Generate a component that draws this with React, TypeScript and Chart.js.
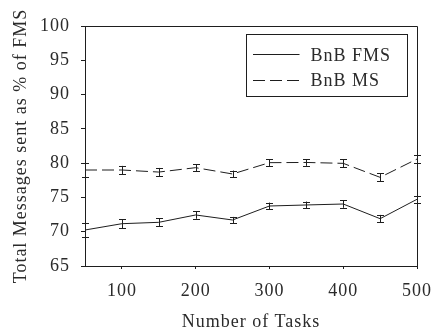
import React, { useEffect, useRef } from "react";
import { Chart, registerables } from "chart.js";

Chart.register(...registerables);

const tasks = [50, 100, 150, 200, 250, 300, 350, 400, 450, 500];
const fmsValues = [70.25, 71.17, 71.37, 72.44, 71.71, 73.75, 73.9, 74.04, 71.9, 74.73];
const fmsErrors = [0.95, 0.65, 0.6, 0.55, 0.45, 0.5, 0.5, 0.55, 0.55, 0.5];
const msValues = [79.0, 79.0, 78.7, 79.34, 78.42, 80.07, 80.1, 79.97, 77.93, 80.6];
const msErrors = [0.95, 0.6, 0.6, 0.5, 0.5, 0.5, 0.5, 0.6, 0.6, 0.55];
const xTickValues = [100, 200, 300, 400, 500];
const seriesLabels = ["BnB FMS", "BnB MS"];

const FONT = "'Liberation Serif', 'DejaVu Serif', serif";
const INK = "#1e1e1e";
const TEXT = "#2a2a2a";
const DASH = [12, 5];
const FS = 18;

const spacingPlugin = {
  id: "spacing",
  beforeLayout(chart: any) {
    chart.ctx.letterSpacing = "1px";
  },
  beforeDraw(chart: any) {
    chart.ctx.letterSpacing = "1px";
  },
};

const errorBarPlugin = {
  id: "errorBars",
  afterDatasetsDraw(chart: any) {
    const { ctx, scales } = chart;
    const x = scales.x;
    const y = scales.y;
    ctx.save();
    ctx.strokeStyle = INK;
    ctx.lineWidth = 1;
    ctx.setLineDash([]);
    chart.data.datasets.forEach((ds: any) => {
      const errs: number[] = ds.errors || [];
      ds.data.forEach((p: any, j: number) => {
        const e = errs[j] || 0;
        const px = Math.round(x.getPixelForValue(p.x)) + 0.5;
        const top = y.getPixelForValue(p.y + e);
        const bot = y.getPixelForValue(p.y - e);
        const half = 3.5;
        ctx.beginPath();
        ctx.moveTo(px, top);
        ctx.lineTo(px, bot);
        ctx.moveTo(px - half, Math.round(top) + 0.5);
        ctx.lineTo(px + half, Math.round(top) + 0.5);
        ctx.moveTo(px - half, Math.round(bot) + 0.5);
        ctx.lineTo(px + half, Math.round(bot) + 0.5);
        ctx.stroke();
      });
    });
    ctx.restore();
  },
};

const framePlugin = {
  id: "frame",
  afterDraw(chart: any) {
    const { ctx, chartArea } = chart;
    const { left, right, top, bottom } = chartArea;
    ctx.save();
    ctx.strokeStyle = INK;
    ctx.lineWidth = 1;
    ctx.setLineDash([]);
    ctx.beginPath();
    ctx.moveTo(Math.round(left), Math.round(top) + 0.5);
    ctx.lineTo(Math.round(right) + 0.5, Math.round(top) + 0.5);
    ctx.lineTo(Math.round(right) + 0.5, Math.round(bottom));
    ctx.stroke();

    // legend box
    const bx = Math.round(right) - 171 + 0.5;
    const by = Math.round(top) + 8 + 0.5;
    const bw = 161;
    const bh = 62;
    ctx.strokeRect(bx, by, bw, bh);
    ctx.font = `${FS}px ${FONT}`;
    ctx.letterSpacing = "1px";
    ctx.fillStyle = TEXT;
    ctx.textAlign = "left";
    ctx.textBaseline = "alphabetic";
    const rows = [
      { label: chart.data.datasets[0].label, dash: [] as number[], ly: by + 19, ty: by + 26 },
      { label: chart.data.datasets[1].label, dash: DASH, ly: by + 45, ty: by + 51 },
    ];
    rows.forEach((r) => {
      ctx.setLineDash(r.dash);
      ctx.beginPath();
      ctx.moveTo(bx + 6.5, Math.round(r.ly) + 0.5);
      ctx.lineTo(bx + 53, Math.round(r.ly) + 0.5);
      ctx.stroke();
      ctx.fillText(r.label, bx + 64, r.ty);
    });
    ctx.restore();
  },
};

export default function App() {
  const ref = useRef<HTMLCanvasElement>(null);

  useEffect(() => {
    if (!ref.current) return;
    const chart = new Chart(ref.current, {
      type: "line",
      data: {
        datasets: [
          {
            label: seriesLabels[0],
            data: tasks.map((t, i) => ({ x: t, y: fmsValues[i] })),
            errors: fmsErrors,
            borderColor: INK,
            borderWidth: 1,
            pointRadius: 0,
            tension: 0,
            fill: false,
          } as any,
          {
            label: seriesLabels[1],
            data: tasks.map((t, i) => ({ x: t, y: msValues[i] })),
            errors: msErrors,
            borderColor: INK,
            borderWidth: 1,
            borderDash: DASH,
            pointRadius: 0,
            tension: 0,
            fill: false,
          } as any,
        ],
      },
      options: {
        responsive: false,
        animation: false,
        layout: { padding: { top: 26, right: 16, left: 0, bottom: 0 } },
        plugins: {
          legend: { display: false },
          tooltip: { enabled: false },
        },
        scales: {
          x: {
            type: "linear",
            min: 50,
            max: 500,
            afterBuildTicks: (scale: any) => {
              scale.ticks = xTickValues.map((v) => ({ value: v }));
            },
            afterFit: (scale: any) => {
              scale.height = 67;
              scale.paddingRight = 0;
              scale.paddingLeft = 0;
            },
            grid: {
              display: true,
              drawOnChartArea: false,
              drawTicks: true,
              tickLength: 3,
              color: INK,
            },
            border: { display: true, color: INK, width: 1 },
            ticks: {
              color: TEXT,
              font: { family: FONT, size: FS },
              padding: 11,
              maxRotation: 0,
            },
            title: {
              display: true,
              text: "Number of Tasks",
              color: TEXT,
              font: { family: FONT, size: FS },
              padding: { top: 0, bottom: 0 },
            },
          },
          y: {
            type: "linear",
            min: 65,
            max: 100,
            ticks: {
              stepSize: 5,
              color: TEXT,
              font: { family: FONT, size: FS },
              padding: 11,
            },
            afterFit: (scale: any) => {
              scale.width = 85;
              scale.paddingTop = 0;
              scale.paddingBottom = 0;
            },
            grid: {
              display: true,
              drawOnChartArea: false,
              drawTicks: true,
              tickLength: 4,
              color: INK,
            },
            border: { display: true, color: INK, width: 1 },
            title: {
              display: true,
              text: "Total Messages sent as % of FMS",
              color: TEXT,
              font: { family: FONT, size: FS },
              padding: { top: 10, bottom: 0 },
            },
          },
        },
      },
      plugins: [spacingPlugin, errorBarPlugin, framePlugin],
    });
    return () => chart.destroy();
  }, []);

  return (
    <div style={{ position: "fixed", left: 0, top: 0, width: 433, height: 333, background: "#fff" }}>
      <canvas ref={ref} width={433} height={333} style={{ display: "block" }} />
    </div>
  );
}
